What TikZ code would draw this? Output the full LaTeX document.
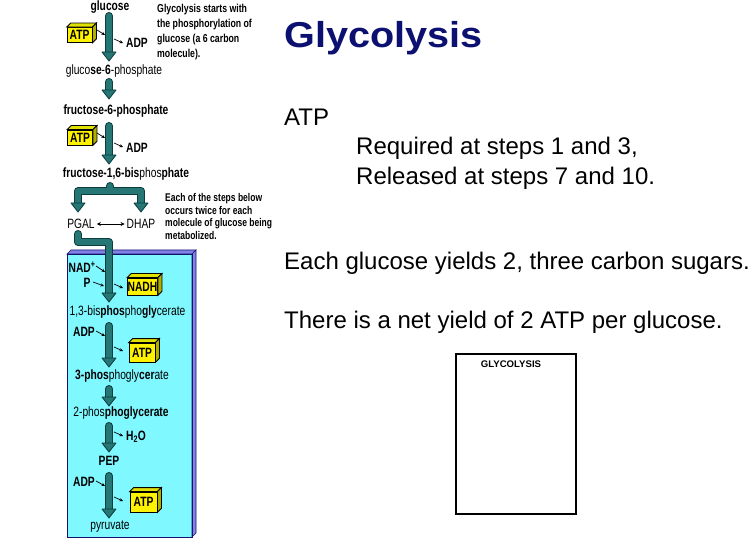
\documentclass[tikz,border=0pt]{standalone}
\usepackage{fontspec}
\setmainfont{Liberation Sans}
\usetikzlibrary{arrows.meta,calc}
\definecolor{tealc}{RGB}{38,118,118}
\definecolor{tealdk}{RGB}{12,60,60}
\definecolor{cyanbox}{RGB}{128,248,255}
\definecolor{boxside}{RGB}{130,130,230}
\definecolor{boxedge}{RGB}{20,20,110}
\definecolor{ytop}{RGB}{225,225,0}
\definecolor{yside}{RGB}{175,175,0}
\definecolor{navyt}{RGB}{12,16,112}
\newcommand\nar[1]{\scalebox{0.76}[1]{\fontsize{13.5}{14}\selectfont #1}}
\newcommand\fhead[1]{\filldraw[fathead] ($(#1)+(-7,-9)$) -- ($(#1)+(7,-9)$) -- (#1) -- cycle;}
\newcommand\fatarr[2]{%
  \draw[fatout] (#1) -- ($(#2)+(0,-8)$);
  \draw[fatin] (#1) -- ($(#2)+(0,-8)$);
  \fhead{#2}}
\newcommand\ybox[6]{%
  \node[ybox, minimum width=#4, minimum height=#5] (#1) at (#2,#3) {\nar{#6}};
  \filldraw[fill=ytop, draw=black, line width=0.8pt] (#1.north west) -- ($(#1.north west)+(4,-4)$) -- ($(#1.north east)+(4,-4)$) -- (#1.north east) -- cycle;
  \filldraw[fill=yside, draw=black, line width=0.8pt] (#1.north east) -- ($(#1.north east)+(4,-4)$) -- ($(#1.south east)+(4,-4)$) -- (#1.south east) -- cycle;}
\begin{document}
\begin{tikzpicture}[x=1pt,y=-1pt,
  lbl/.style={inner sep=0pt},
  ybox/.style={draw=black, line width=0.8pt, fill=yellow, inner sep=0pt, font=\bfseries},
  sarr/.style={draw, line width=0.7pt, -{Stealth[length=3.5pt,width=3.2pt]}},
  fatout/.style={draw=tealdk, line width=8pt, line cap=round, line join=round},
  fatin/.style={draw=tealc, line width=6pt, line cap=round, line join=round},
  fathead/.style={fill=tealc, draw=tealdk, line width=0.8pt, line join=round},
  body/.style={inner sep=0pt, anchor=base west, font=\fontsize{24}{28}\selectfont}]
\useasboundingbox[fill=white] (0,0) rectangle (750,540);

% blue panel
\fill[cyanbox] (67,254) rectangle (192,537);
\filldraw[fill=boxside, draw=boxedge, line width=0.6pt] (67,254) -- (71,250) -- (196,250) -- (192,254) -- cycle;
\filldraw[fill=boxside, draw=boxedge, line width=0.6pt] (192,254) -- (196,250) -- (196,533) -- (192,537) -- cycle;
\draw[boxedge, line width=0.8pt] (67,254) rectangle (192,537);

% compound labels
\node[lbl] (glc) at (110,7) {\nar{\textbf{glucose}}};
\node[lbl] (g6p) at (114,71) {\nar{gluco\textbf{se}-\textbf{6}-phosphate}};
\node[lbl] (f6p) at (116,111) {\nar{\textbf{fructose-6-phosphate}}};
\node[lbl] (f16) at (126,174) {\nar{\textbf{fructose-1,6-bis}phos\textbf{phate}}};
\node[lbl] (pgal) at (81,224) {\nar{PGAL}};
\node[lbl] (dhap) at (141,224) {\nar{DHAP}};
\node[lbl] (bpg) at (127.5,312) {\nar{1,3-bis\textbf{phos}pho\textbf{gly}cerate}};
\node[lbl] (p3g) at (122,376) {\nar{\textbf{3-phos}phogly\textbf{cer}ate}};
\node[lbl] (p2g) at (121,413) {\nar{2-phos\textbf{phoglycerate}}};
\node[lbl] (pep) at (109,461) {\nar{\textbf{PEP}}};
\node[lbl] (pyr) at (110,527) {\nar{pyruvate}};

% cofactor labels
\node[lbl] (adpa) at (137,43) {\nar{\textbf{ADP}}};
\node[lbl] (adpb) at (137,148) {\nar{\textbf{ADP}}};
\node[lbl] (nad) at (82,267) {\nar{\textbf{NAD\textsuperscript{+}}}};
\node[lbl] (pi) at (87,283) {\nar{\textbf{P}}};
\node[lbl] (adpc) at (84,332) {\nar{\textbf{ADP}}};
\node[lbl] (h2o) at (136,437) {\nar{\textbf{H\textsubscript{2}O}}};
\node[lbl] (adpd) at (84,482) {\nar{\textbf{ADP}}};

% fat arrows
\coordinate (a1s) at (109,16); \coordinate (a1e) at (109,61);
\coordinate (a2s) at (109,82); \coordinate (a2e) at (109,99);
\coordinate (a3s) at (109,126); \coordinate (a3e) at (109,164);
\coordinate (a6s) at (109,326); \coordinate (a6e) at (109,367);
\coordinate (a7s) at (109,389); \coordinate (a7e) at (109,406);
\coordinate (a8s) at (109,426); \coordinate (a8e) at (109,452);
\coordinate (a9s) at (109,476); \coordinate (a9e) at (109,518);
\fatarr{a1s}{a1e}
\fatarr{a2s}{a2e}
\fatarr{a3s}{a3e}
\fatarr{a6s}{a6e}
\fatarr{a7s}{a7e}
\fatarr{a8s}{a8e}
\fatarr{a9s}{a9e}

% split arrow
\coordinate (sp0) at (110,186); \coordinate (spm) at (110,191);
\coordinate (spl) at (78,191); \coordinate (spr) at (141,191);
\coordinate (tl) at (78,212); \coordinate (tr) at (141,212);
\draw[fatout] (sp0) -- (spm) ($(tl)+(0,-8)$) |- (spr) -- ($(tr)+(0,-8)$);
\draw[fatin] (sp0) -- (spm) ($(tl)+(0,-8)$) |- (spr) -- ($(tr)+(0,-8)$);
\fhead{tl}
\fhead{tr}

% PGAL into panel
\coordinate (q0) at (78,234); \coordinate (q1) at (78,242);
\coordinate (q2) at (109,242); \coordinate (q3) at (109,302);
\draw[fatout] (q0) -- (q1) -- (q2) -- ($(q3)+(0,-8)$);
\draw[fatin] (q0) -- (q1) -- (q2) -- ($(q3)+(0,-8)$);
\fhead{q3}

% yellow boxes
\ybox{atpa}{79.5}{35}{25pt}{15pt}{ATP}
\ybox{atpb}{80}{137.5}{25pt}{15pt}{ATP}
\ybox{nadh}{142.5}{286.5}{30pt}{17pt}{NADH}
\ybox{atpc}{142}{352.5}{26pt}{19pt}{ATP}
\ybox{atpd}{143.5}{502}{27pt}{20pt}{ATP}

% small arrows
\coordinate (sa1) at (97,30);  \coordinate (sa2) at (105,35);
\coordinate (sb1) at (114,39); \coordinate (sb2) at (123,43);
\coordinate (sc1) at (97,133); \coordinate (sc2) at (105,138);
\coordinate (sd1) at (114,143); \coordinate (sd2) at (123,147);
\coordinate (se1) at (96,266); \coordinate (se2) at (105,272);
\coordinate (sf1) at (93,282); \coordinate (sf2) at (104,286);
\coordinate (sg1) at (114,284); \coordinate (sg2) at (123,288);
\coordinate (sh1) at (96,331); \coordinate (sh2) at (105,336);
\coordinate (si1) at (114,347); \coordinate (si2) at (123,351);
\coordinate (sj1) at (114,432); \coordinate (sj2) at (123,436);
\coordinate (sk1) at (96,481); \coordinate (sk2) at (105,486);
\coordinate (sl1) at (114,497); \coordinate (sl2) at (123,501);
\foreach \s in {a,b,c,d,e,f,g,h,i,j,k,l} {\draw[sarr] (s\s1) -- (s\s2);}

\draw[line width=0.8pt, {Stealth[length=4pt,width=4pt]}-{Stealth[length=4pt,width=4pt]}, shorten <=2pt, shorten >=2pt] (pgal) -- (dhap);

% side notes
\node[lbl, anchor=north west] (note1) at (157,2) {\scalebox{0.76}[1]{\fontsize{11.5}{15}\selectfont\bfseries\begin{tabular}{@{}l@{}}Glycolysis starts with\\ the phosphorylation of\\ glucose (a 6 carbon\\ molecule).\end{tabular}}};
\node[lbl, anchor=north west] (note2) at (165,192.5) {\scalebox{0.76}[1]{\fontsize{11.2}{12.7}\selectfont\bfseries\begin{tabular}{@{}l@{}}Each of the steps below\\ occurs twice for each\\ molecule of glucose being\\ metabolized.\end{tabular}}};

% right side text
\node[lbl, anchor=base west, text=navyt] (title) at (284,48) {\scalebox{1.1}[1]{\fontsize{36}{40}\selectfont\bfseries Glycolysis}};
\node[body] (atp) at (284,126) {ATP};
\node[body] (req) at (356,155) {Required at steps 1 and 3,};
\node[body] (rel) at (356,185) {Released at steps 7 and 10.};
\node[body] (each) at (284,270) {Each glucose yields 2, three carbon sugars.};
\node[body] (net) at (284,328) {There is a net yield of 2 ATP per glucose.};

\node[draw, line width=1.2pt, minimum width=120pt, minimum height=160pt, inner sep=0pt] (panel) at (516,434) {};
\node[lbl, font=\bfseries\fontsize{9.6}{10}\selectfont] (gtitle) at (511,364) {GLYCOLYSIS};
\end{tikzpicture}
\end{document}
